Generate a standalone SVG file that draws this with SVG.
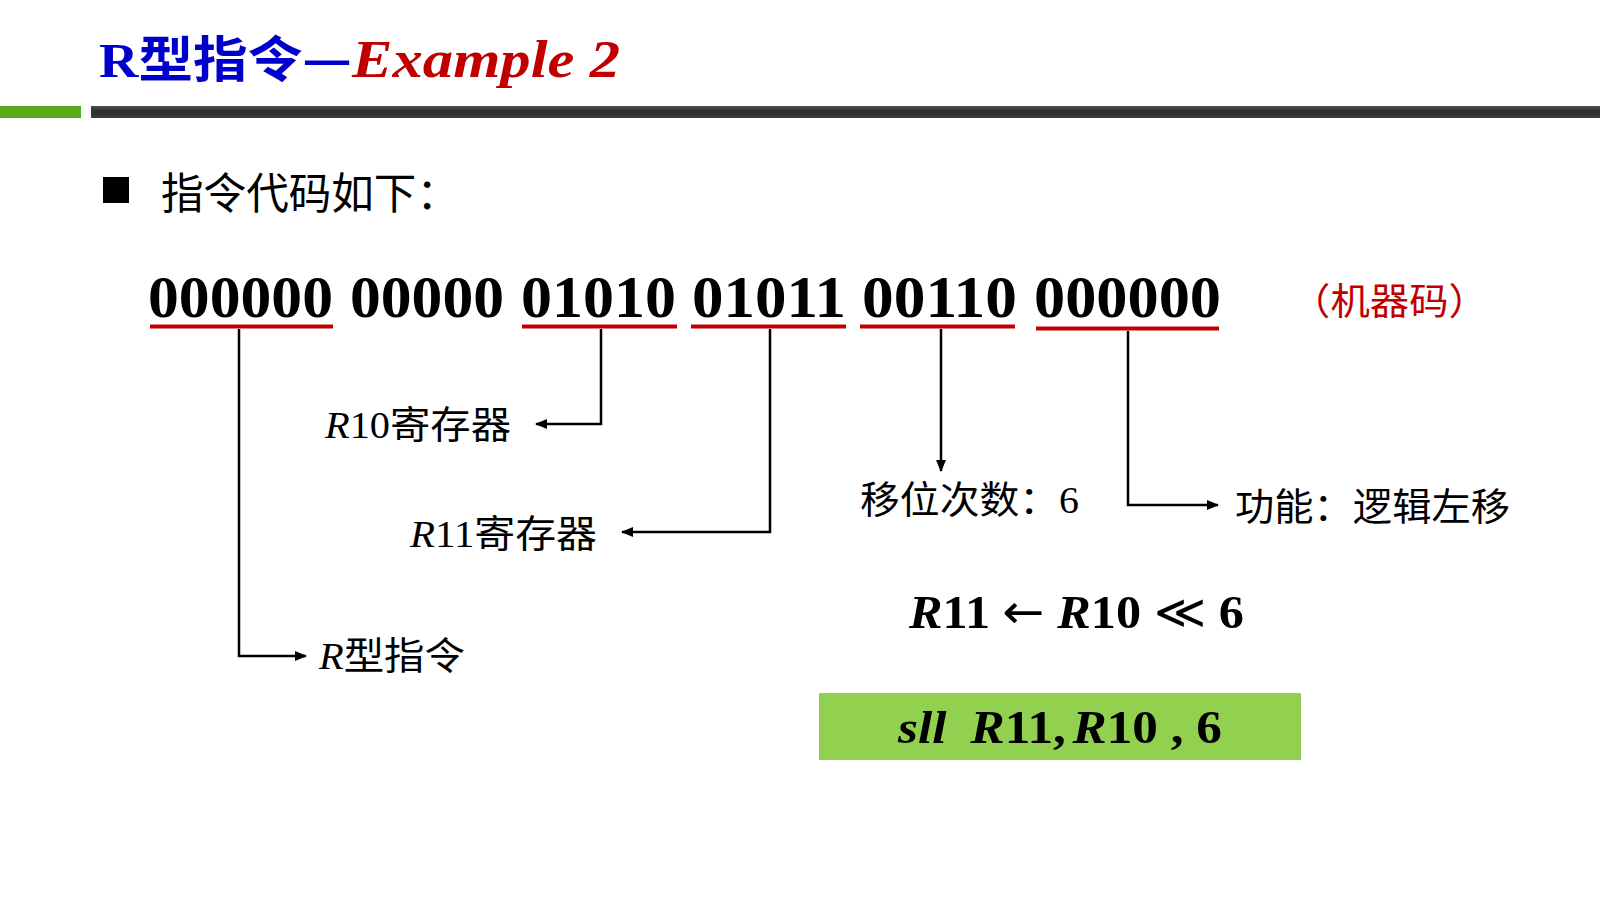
<svg xmlns="http://www.w3.org/2000/svg" width="1600" height="900" viewBox="0 0 1600 900">
  <defs>
    <marker id="arr" markerWidth="12" markerHeight="10" refX="11" refY="5" orient="auto" markerUnits="userSpaceOnUse">
      <path d="M0,0 L12,5 L0,10 Z" fill="#000"/>
    </marker>
    <linearGradient id="bar" x1="0" y1="0" x2="0" y2="1">
      <stop offset="0" stop-color="#4a4f54"/>
      <stop offset="0.5" stop-color="#2a2e33"/>
      <stop offset="1" stop-color="#3a3f44"/>
    </linearGradient>
  </defs>
  <style>
    .cjk { font-family: "Noto Sans CJK SC", sans-serif; }
    .bits { font-family: "Liberation Serif", serif; font-weight: bold; font-size: 59px; fill: #000; }
    .ul { stroke: #C00000; stroke-width: 4; }
    .conn { stroke: #000; stroke-width: 2.5; fill: none; }
    .lbl { font-family: "Liberation Serif", "Noto Sans CJK SC", serif; font-size: 38px; fill: #000; }
    .math { font-family: "Liberation Serif", serif; font-weight: bold; font-size: 47px; fill: #000; }
  </style>
  <rect width="1600" height="900" fill="#fff"/>

  <g id="header">
    <text x="99" y="77" font-family="Liberation Serif, Noto Sans CJK SC, serif" font-weight="bold" font-size="49" fill="#0000CC" textLength="253" lengthAdjust="spacingAndGlyphs">R<tspan font-family="Noto Sans CJK SC, sans-serif">型指令—</tspan></text>
    <text x="352" y="77" font-family="Liberation Serif, serif" font-weight="bold" font-style="italic" font-size="53" fill="#C00000" textLength="268" lengthAdjust="spacingAndGlyphs">Example 2</text>
    <rect x="0" y="106" width="81" height="12" fill="#5aaa1e"/>
    <rect x="91" y="106" width="1509" height="12" fill="url(#bar)"/>
  </g>

  <g id="intro">
    <rect x="103" y="177" width="26" height="26" fill="#000"/>
    <text x="161" y="209" class="cjk" font-size="43" fill="#000" textLength="298" lengthAdjust="spacingAndGlyphs">指令代码如下：</text>
  </g>

  <g id="code">
    <text class="bits" x="148" y="317" textLength="185" lengthAdjust="spacingAndGlyphs">000000</text>
    <text class="bits" x="350" y="317" textLength="154" lengthAdjust="spacingAndGlyphs">00000</text>
    <text class="bits" x="521" y="317" textLength="155" lengthAdjust="spacingAndGlyphs">01010</text>
    <text class="bits" x="692" y="317" textLength="154" lengthAdjust="spacingAndGlyphs">01011</text>
    <text class="bits" x="862" y="317" textLength="155" lengthAdjust="spacingAndGlyphs">00110</text>
    <text class="bits" x="1034" y="317" textLength="187" lengthAdjust="spacingAndGlyphs">000000</text>
    <text x="1291" y="315" class="cjk" font-size="37" fill="#C00000" textLength="197" lengthAdjust="spacingAndGlyphs">（机器码）</text>
  </g>

  <g id="underlines">
    <line class="ul" x1="150" y1="326.5" x2="333" y2="326.5"/>
    <line class="ul" x1="522" y1="326.5" x2="677" y2="326.5"/>
    <line class="ul" x1="691" y1="326.5" x2="846" y2="326.5"/>
    <line class="ul" x1="860" y1="326.5" x2="1015" y2="326.5"/>
    <line class="ul" x1="1036" y1="328.5" x2="1219" y2="328.5"/>
  </g>

  <g id="connectors">
    <polyline class="conn" points="239,329 239,656 306,656" marker-end="url(#arr)"/>
    <polyline class="conn" points="601,329 601,424 536,424" marker-end="url(#arr)"/>
    <polyline class="conn" points="770,329 770,532 622,532" marker-end="url(#arr)"/>
    <polyline class="conn" points="941,329 941,471" marker-end="url(#arr)"/>
    <polyline class="conn" points="1128,331 1128,505 1218,505" marker-end="url(#arr)"/>
  </g>

  <g id="label-r10">
    <text class="lbl" x="325" y="438" textLength="186" lengthAdjust="spacingAndGlyphs"><tspan font-style="italic">R</tspan>10<tspan font-family="Noto Sans CJK SC, sans-serif">寄存器</tspan></text>
  </g>
  <g id="label-r11">
    <text class="lbl" x="410" y="547" textLength="187" lengthAdjust="spacingAndGlyphs"><tspan font-style="italic">R</tspan>11<tspan font-family="Noto Sans CJK SC, sans-serif">寄存器</tspan></text>
  </g>
  <g id="label-rtype">
    <text class="lbl" x="319" y="669" textLength="146" lengthAdjust="spacingAndGlyphs"><tspan font-style="italic">R</tspan><tspan font-family="Noto Sans CJK SC, sans-serif">型指令</tspan></text>
  </g>
  <g id="label-shamt">
    <text class="cjk" x="860" y="513" font-size="38" fill="#000" textLength="219" lengthAdjust="spacingAndGlyphs">移位次数：<tspan font-family="Liberation Serif, serif">6</tspan></text>
  </g>
  <g id="label-func">
    <text class="cjk" x="1235" y="520" font-size="38" fill="#000" textLength="275" lengthAdjust="spacingAndGlyphs">功能：逻辑左移</text>
  </g>

  <g id="formula">
    <text class="math" x="909" y="628" textLength="335" lengthAdjust="spacingAndGlyphs"><tspan font-style="italic">R</tspan>11 <tspan font-weight="normal" font-family="DejaVu Sans, sans-serif">←</tspan> <tspan font-style="italic">R</tspan>10 <tspan font-weight="normal" font-family="DejaVu Sans, sans-serif">≪</tspan> 6</text>
  </g>

  <g id="asm">
    <rect x="819" y="693" width="482" height="67" fill="#92D050"/>
    <text class="math" x="898" y="743" textLength="324" lengthAdjust="spacingAndGlyphs"><tspan font-style="italic">sll</tspan><tspan dx="22" font-style="italic">R</tspan>11,<tspan dx="6" font-style="italic">R</tspan>10 , 6</text>
  </g>
</svg>
